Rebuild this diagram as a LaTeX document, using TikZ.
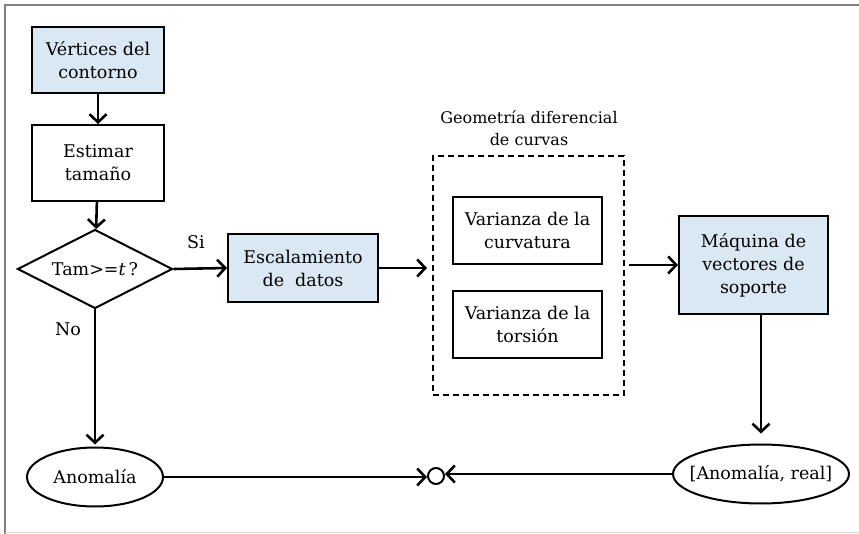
\documentclass[tikz,border=0pt]{standalone}
\usepackage{fontspec}
\setmainfont{DejaVu Serif}
\usetikzlibrary{arrows.meta,shapes.geometric}
\definecolor{boxblue}{HTML}{DAE8F4}
\begin{document}
\begin{tikzpicture}[x=1pt,y=-1pt,
  every node/.style={font=\fontsize{17.5}{23}\selectfont, align=center, inner sep=0pt},
  pbox/.style={draw, line width=2pt, rectangle},
  bluebox/.style={pbox, fill=boxblue},
  oval/.style={draw, line width=2pt, ellipse, inner xsep=-22pt},
  conn/.style={line width=2.6pt, -{Straight Barb[length=8pt,width=17pt,line width=2.6pt]}},
  lbl/.style={font=\fontsize{17.5}{23}\selectfont}
]
\useasboundingbox (0,0) rectangle (859,534);
\draw[gray, line width=1.5pt] (5,534) -- (5,5) -- (859,5);
\draw[gray!30, line width=1pt] (5,532) -- (859,532);

\node[bluebox, minimum width=132pt, minimum height=66pt] (vert) at (98,60) {Vértices del\\contorno};
\node[pbox, minimum width=132pt, minimum height=76pt] (est) at (98,163) {Estimar\\tamaño};
\node[diamond, draw, line width=2pt, aspect=1.95, minimum width=155pt, minimum height=79pt] (dec) at (95,269) {Tam>=\textit{t}\,?};
\node[bluebox, minimum width=150pt, minimum height=68pt] (esc) at (303,268) {Escalamiento\\de\ \ datos};
\node[draw, line width=2pt, dash pattern=on 6pt off 4pt, minimum width=191pt, minimum height=239pt] (geo) at (528.5,275.5) {};
\node[font=\fontsize{16}{22}\selectfont] (geolbl) at (529,128) {Geometría diferencial\\de curvas};
\node[pbox, minimum width=149pt, minimum height=67pt] (curv) at (527.5,230.5) {Varianza de la\\curvatura};
\node[pbox, minimum width=149pt, minimum height=67pt] (tors) at (527.5,324.5) {Varianza de la\\torsión};
\node[bluebox, minimum width=149pt, minimum height=98pt] (svm) at (753.5,265) {Máquina de\\vectores de\\soporte};
\node[oval, minimum width=136pt, minimum height=59pt] (anom) at (95,477) {Anomalía};
\node[oval, minimum width=176pt, minimum height=59pt] (res) at (761,474) {[Anomalía, real]};
\node[circle, draw, line width=2pt, minimum size=16pt] (join) at (436,476) {};

\node[lbl] (si) at (196,242) {Si};
\node[lbl] (no) at (68,329) {No};

\draw[conn] (vert) -- (est);
\draw[conn] (est) -- (dec);
\draw[conn] (dec.east) -- (esc.west);
\draw[conn] (esc.east) -- ([xshift=-5pt]geo.west |- esc.east);
\draw[conn] ([xshift=4pt]geo.east |- svm.west) -- (svm.west);
\draw[conn] (dec.south) -- ([yshift=2pt]anom.north);
\draw[conn] (res.north |- svm.south) -- ([yshift=10pt]res.north);
\draw[conn] (anom.east) -- (join.west |- anom.east);
\draw[conn] (res.west) -- (join.east |- res.west);
\end{tikzpicture}
\end{document}
